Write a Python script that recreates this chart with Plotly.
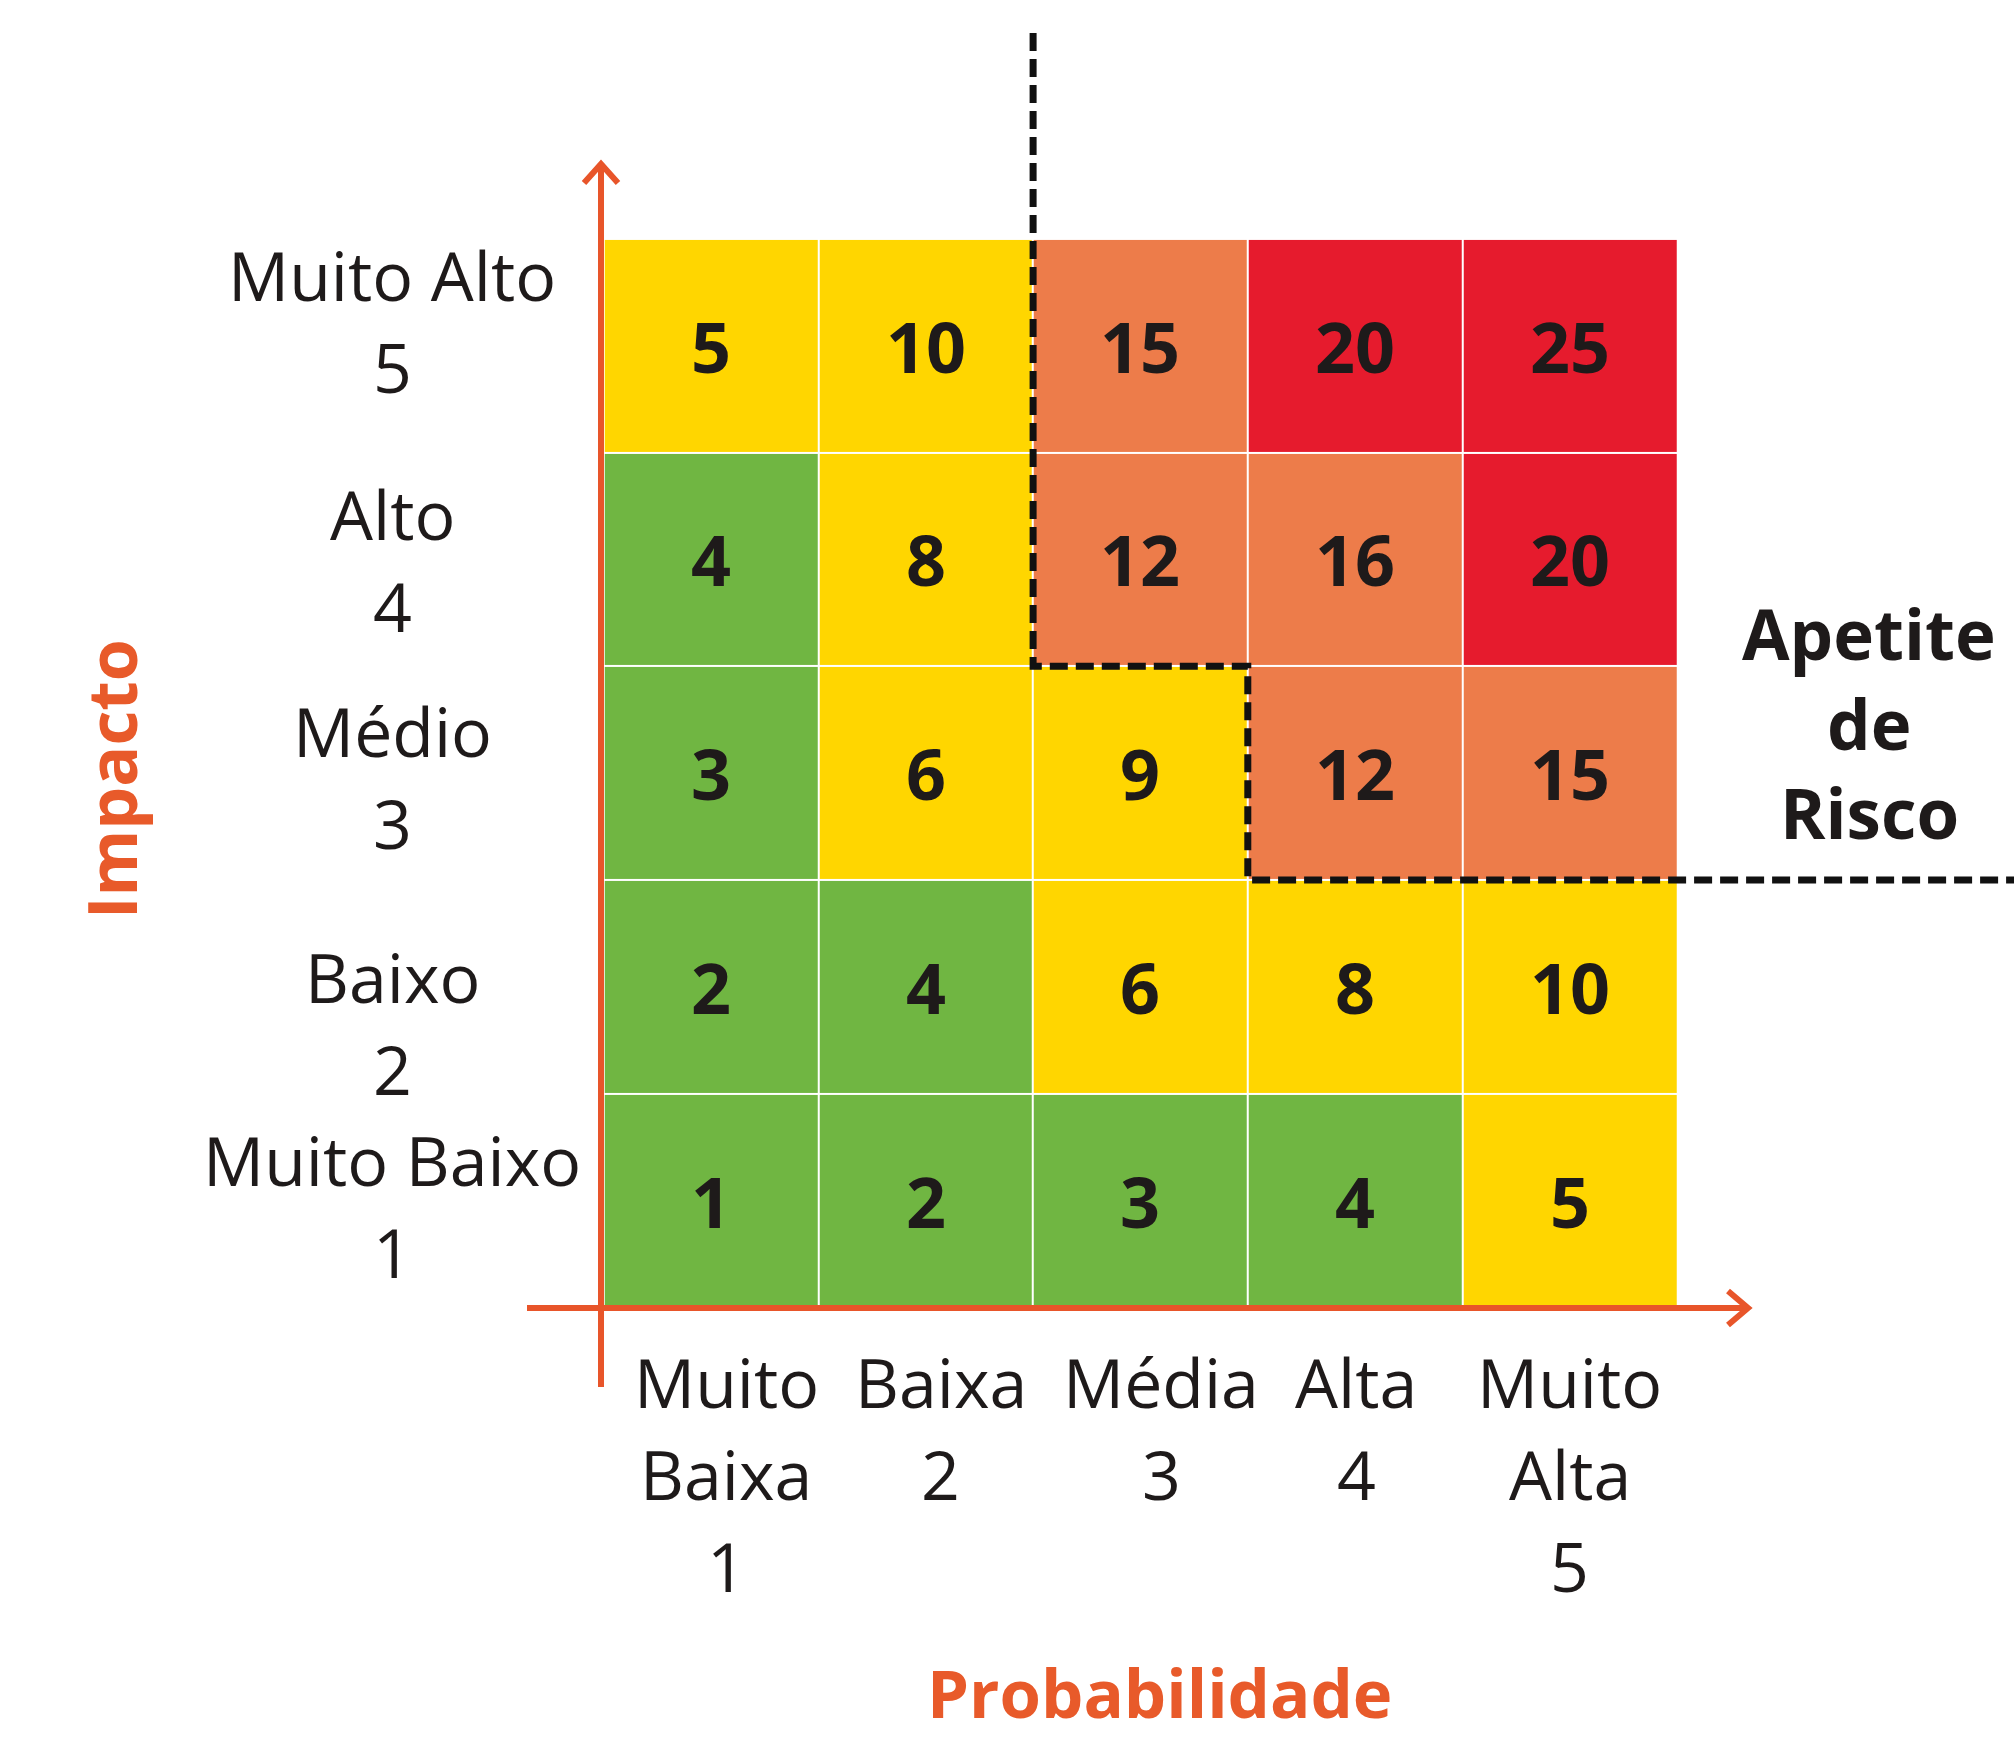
import plotly.graph_objects as go

# ---------------- data ----------------
prob_levels = [1, 2, 3, 4, 5]
impact_levels = [1, 2, 3, 4, 5]
prob_labels = ["Muito\nBaixa\n1", "Baixa\n2", "Média\n3", "Alta\n4", "Muito\nAlta\n5"]
impact_labels = ["Muito Baixo\n1", "Baixo\n2", "Médio\n3", "Alto\n4", "Muito Alto\n5"]
# risk scores, rows = impact 1..5, columns = probability 1..5
score_impact_1 = [1, 2, 3, 4, 5]
score_impact_2 = [2, 4, 6, 8, 10]
score_impact_3 = [3, 6, 9, 12, 15]
score_impact_4 = [4, 8, 12, 16, 20]
score_impact_5 = [5, 10, 15, 20, 25]
scores = [score_impact_1, score_impact_2, score_impact_3, score_impact_4, score_impact_5]
class_upper_bounds = [4, 10, 16, 25]          # green, yellow, orange, red
appetite_threshold = 12                        # scores >= this exceed the risk appetite

# ---------------- style / layout ----------------
W, H = 2014, 1738
GRID_L, GRID_T = 603.7, 238.9
CELL_W, CELL_H = 214.7, 213.7
GREEN, YELLOW, ORANGE, RED = "#70B642", "#FFD600", "#ED7C4A", "#E61B2D"
AXIS_COLOR = "#E8552A"
TITLE_COLOR = "#E85A2A"
TEXT_COLOR = "#1E1A1A"
FONT = "Open Sans"
LABEL_SIZE = 68
NUM_SIZE = 70
y_label_nudge = [5, 36, 3, 0, -25]     # px, positive = down (impact 1..5)
x_label_nudge = [15, 15, 21, 1, 0]     # px, positive = right
LINE_GAP = 92
LABEL_X = 392
XLABEL_TOP = 1381


def xd(px):
    return 0.5 + (px - GRID_L) / CELL_W


def yd(py):
    return 0.5 + (GRID_T + 5 * CELL_H - py) / CELL_H


def risk_class(v):
    for i, b in enumerate(class_upper_bounds):
        if v <= b:
            return i
    return len(class_upper_bounds) - 1


z_class = [[risk_class(v) for v in row] for row in scores]

fig = go.Figure()
fig.add_trace(go.Heatmap(
    x=prob_levels, y=impact_levels, z=z_class,
    zmin=-0.5, zmax=3.5,
    colorscale=[[0, GREEN], [0.25, GREEN], [0.25, YELLOW], [0.5, YELLOW],
                [0.5, ORANGE], [0.75, ORANGE], [0.75, RED], [1, RED]],
    showscale=False, xgap=2, ygap=2, hoverinfo="skip",
))

# appetite boundary derived from the scores
first_exceed = {}
for r_i, r in enumerate(impact_levels):
    c_found = 6
    for c_i, c in enumerate(prob_levels):
        if scores[r_i][c_i] >= appetite_threshold:
            c_found = c
            break
    first_exceed[r] = c_found

top_row = max(impact_levels)
px_pts = [(first_exceed[top_row] - 0.5, yd(33))]
for r in sorted(impact_levels, reverse=True):
    c = first_exceed[r]
    if c > max(prob_levels):
        px_pts.append((xd(W + 10), px_pts[-1][1]))
        break
    x = c - 0.5
    if x != px_pts[-1][0]:
        px_pts.append((x, r + 0.5))
    px_pts.append((x, r - 0.5))

fig.add_trace(go.Scatter(
    x=[p[0] for p in px_pts], y=[p[1] for p in px_pts], mode="lines",
    line=dict(color="#111111", width=7, dash="18px,8px"),
    hoverinfo="skip", showlegend=False,
))

annotations = []
# cell values
for r_i, r in enumerate(impact_levels):
    for c_i, c in enumerate(prob_levels):
        annotations.append(dict(
            x=c, y=r, xref="x", yref="y", text=f"<b>{scores[r_i][c_i]}</b>",
            showarrow=False, font=dict(family=FONT, size=NUM_SIZE, color=TEXT_COLOR),
            xanchor="center", yanchor="middle",
        ))

# impact labels (y)
for r_i, r in enumerate(impact_levels):
    lines = impact_labels[r_i].split("\n")
    n = len(lines)
    for k, line in enumerate(lines):
        off = (k - (n - 1) / 2) * LINE_GAP + y_label_nudge[r_i]
        annotations.append(dict(
            x=xd(LABEL_X), y=r, xref="x", yref="y", text=line, showarrow=False,
            yshift=-off, font=dict(family=FONT, size=LABEL_SIZE, color=TEXT_COLOR),
            xanchor="center", yanchor="middle",
        ))

# probability labels (x)
for c_i, c in enumerate(prob_levels):
    lines = prob_labels[c_i].split("\n")
    for k, line in enumerate(lines):
        annotations.append(dict(
            x=c, y=yd(XLABEL_TOP + k * LINE_GAP), xref="x", yref="y", text=line,
            showarrow=False, xshift=x_label_nudge[c_i],
            font=dict(family=FONT, size=LABEL_SIZE, color=TEXT_COLOR),
            xanchor="center", yanchor="middle",
        ))

# Apetite de Risco
for k, (line, py) in enumerate(zip(["Apetite", "de", "Risco"], [633, 723, 812])):
    annotations.append(dict(
        x=xd(1869), y=yd(py), xref="x", yref="y", text=f"<b>{line}</b>",
        showarrow=False, font=dict(family=FONT, size=69, color=TEXT_COLOR),
        xanchor="center", yanchor="middle",
    ))

# axis titles
annotations.append(dict(
    x=xd(1159), y=yd(1692), xref="x", yref="y", text="<b>Probabilidade</b>",
    showarrow=False, font=dict(family=FONT, size=67, color=TITLE_COLOR),
    xanchor="center", yanchor="middle",
))
annotations.append(dict(
    x=xd(110), y=yd(779), xref="x", yref="y", text="<b>Impacto</b>", textangle=-90,
    showarrow=False, font=dict(family=FONT, size=68, color=TITLE_COLOR),
    xanchor="center", yanchor="middle",
))

# axis arrows
AX_X, AX_Y = 601, 1308
shapes = [
    dict(type="line", xref="x", yref="y", x0=xd(AX_X), x1=xd(AX_X), y0=yd(1387), y1=yd(166),
         line=dict(color=AXIS_COLOR, width=6), layer="above"),
    dict(type="path", xref="x", yref="y",
         path=f"M {xd(AX_X-17)},{yd(164+19)} L {xd(AX_X)},{yd(164)} L {xd(AX_X+17)},{yd(164+19)}",
         line=dict(color=AXIS_COLOR, width=6), layer="above"),
    dict(type="line", xref="x", yref="y", x0=xd(527), x1=xd(1746), y0=yd(AX_Y), y1=yd(AX_Y),
         line=dict(color=AXIS_COLOR, width=6), layer="above"),
    dict(type="path", xref="x", yref="y",
         path=f"M {xd(1748-20)},{yd(AX_Y-17)} L {xd(1748)},{yd(AX_Y)} L {xd(1748-20)},{yd(AX_Y+17)}",
         line=dict(color=AXIS_COLOR, width=6), layer="above"),
]

fig.update_layout(
    width=W, height=H, autosize=False,
    margin=dict(l=0, r=0, t=0, b=0, pad=0),
    paper_bgcolor="white", plot_bgcolor="white",
    xaxis=dict(range=[xd(0), xd(W)], visible=False, fixedrange=True),
    yaxis=dict(range=[yd(H), yd(0)], visible=False, fixedrange=True),
    annotations=annotations, shapes=shapes, showlegend=False,
)

fig.write_html("out.html", config={"displayModeBar": False},
               post_script="document.body.style.margin='0';document.body.style.overflow='hidden';")
